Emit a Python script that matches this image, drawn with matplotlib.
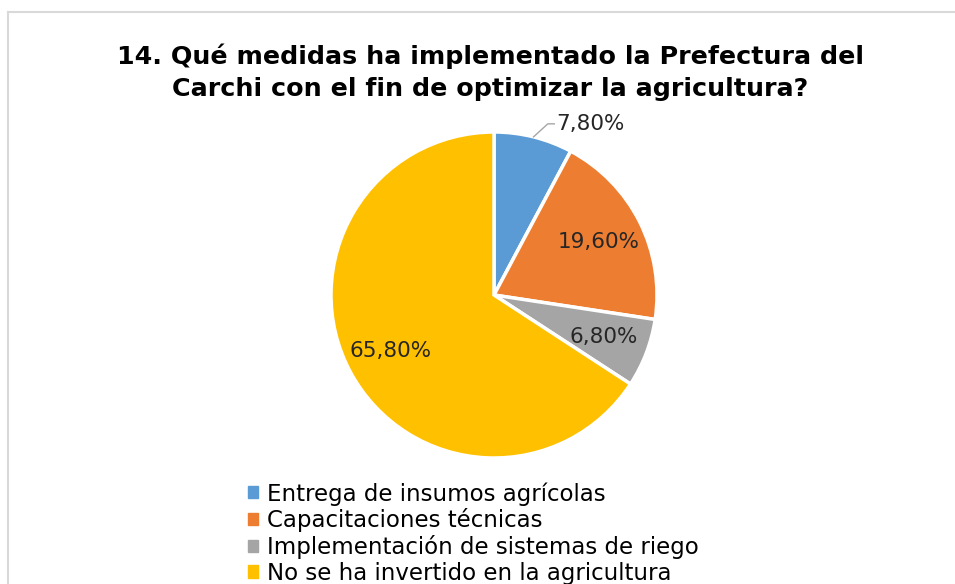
import matplotlib.pyplot as plt
import numpy as np

categories = ['Entrega de insumos agrícolas', 'Capacitaciones técnicas',
              'Implementación de sistemas de riego', 'No se ha invertido en la agricultura']
values = [7.8, 19.6, 6.8, 65.8]
colors = ['#5B9BD5', '#ED7D31', '#A5A5A5', '#FFC000']
title = '14. Qué medidas ha implementado la Prefectura del\nCarchi con el fin de optimizar la agricultura?'

W, H = 955, 584
fig = plt.figure(figsize=(W / 100, H / 100), dpi=100)

# chart area border (right and bottom edges fall outside the image)
fig.add_artist(plt.Line2D([8 / W, 8 / W], [0, 1 - 12 / H], color='#d9d9d9', lw=1.5,
                          transform=fig.transFigure))
fig.add_artist(plt.Line2D([8 / W, 1], [1 - 12 / H, 1 - 12 / H], color='#d9d9d9', lw=1.5,
                          transform=fig.transFigure))

fig.text(490 / W, 1 - 72 / H, title, ha='center', va='center', fontsize=18.3,
         fontweight='bold', family='DejaVu Sans', linespacing=1.42, color='#000000')

cx, cy, r = 494, 295, 163
ax = fig.add_axes([(cx - r) / W, (H - cy - r) / H, 2 * r / W, 2 * r / H])
wedges, _ = ax.pie(values, colors=colors, startangle=90, counterclock=False,
                   wedgeprops=dict(edgecolor='white', linewidth=2.5))
ax.set_xlim(-1, 1)
ax.set_ylim(-1, 1)

for i, (w, v) in enumerate(zip(wedges, values)):
    lab = f'{v:.2f}%'.replace('.', ',')
    ang = np.deg2rad((w.theta1 + w.theta2) / 2)
    if i == 0:
        x0, y0 = np.cos(ang), np.sin(ang)
        ax.plot([x0 * 1.0, 0.33, 0.37], [y0 * 1.0, 1.05, 1.05], color='#a6a6a6', lw=1,
                clip_on=False)
        ax.text(0.38, 1.05, lab, ha='left', va='center', fontsize=15.5, color='#262626')
    else:
        d = 0.72
        ax.text(d * np.cos(ang), d * np.sin(ang), lab, ha='center', va='center',
                fontsize=15.5, color='#262626')

handles = [plt.Rectangle((0, 0), 1, 1, color=c) for c in colors]
fig.legend(handles, categories, loc='upper left', bbox_to_anchor=(248 / W, 1 - 482 / H),
           frameon=False, fontsize=16.5, handlelength=0.45, handleheight=0.45,
           handletextpad=0.4, labelspacing=0.12, borderaxespad=0, borderpad=0)

fig.savefig('out.png', dpi=100)
